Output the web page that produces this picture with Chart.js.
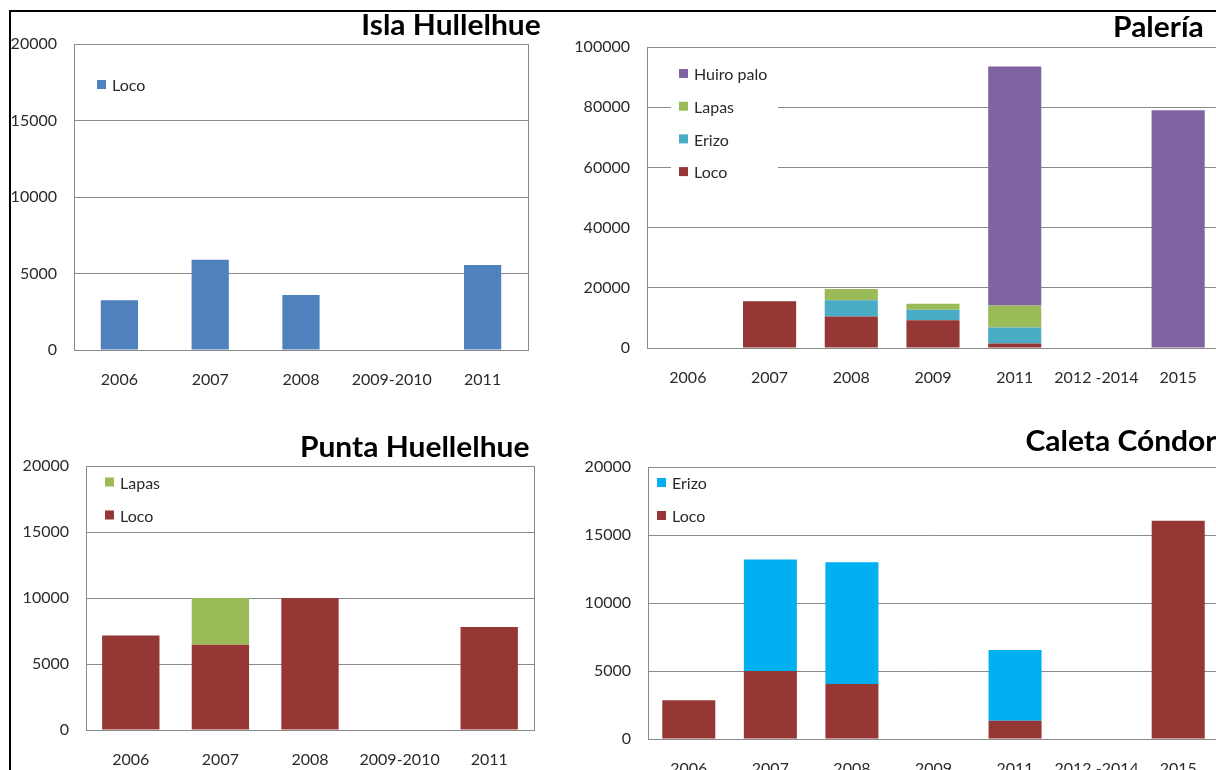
<!DOCTYPE html>
<html lang="es">
<head>
  <meta charset="UTF-8">
  <title>Desembarques por sector</title>
  <script src="https://cdn.jsdelivr.net/npm/chart.js"></script>
  <style>
    html, body { margin: 0; padding: 0; background: #fff; overflow: hidden; width: 1216px; height: 770px; }
    body { position: relative; font-family: Lato, sans-serif; }
    canvas { position: absolute; }
    .titulo { position: absolute; font: bold 28px Lato, sans-serif; line-height: 1.2; color: #000;
              white-space: nowrap; transform: scaleX(1.07); transform-origin: right center; z-index: 2; }
    #marco { position: absolute; left: 9px; top: 10px; width: 1300px; height: 900px;
             border-left: 2px solid #000; border-top: 2px solid #000; z-index: 5; }
  </style>
</head>
<body>
  <div id="marco"></div>
  <div class="titulo" style="right:675px; top:8px">Isla Hullelhue</div>
  <div class="titulo" style="right:12px; top:10px">Palería</div>
  <div class="titulo" style="right:686px; top:430px">Punta Huellelhue</div>
  <div class="titulo" style="right:0px; top:424px">Caleta Cóndor</div>

  <canvas id="isla" width="533" height="381" style="left:0px; top:14px"></canvas>
  <canvas id="paleria" width="681" height="376" style="left:543px; top:17px"></canvas>
  <canvas id="punta" width="527" height="339" style="left:12px; top:436px"></canvas>
  <canvas id="condor" width="680" height="347" style="left:544px; top:437px"></canvas>

  <script>
    // años (categorías)
    const anios5 = ['2006', '2007', '2008', '2009-2010', '2011'];
    const anios7 = ['2006', '2007', '2008', '2009', '2011', '2012 -2014', '2015'];

    // Isla Hullelhue
    const islaLoco = [3250, 5900, 3600, null, 5550];

    // Palería
    const paleriaLoco  = [null, 15500, 10500, 9200, 1500, null, null];
    const paleriaErizo = [null, null, 5400, 3500, 5300, null, null];
    const paleriaLapas = [null, null, 3700, 2000, 7300, null, null];
    const paleriaHuiro = [null, null, null, null, 79400, null, 79000];

    // Punta Huellelhue
    const puntaLoco  = [7150, 6450, 10000, null, 7800];
    const puntaLapas = [null, 3550, null, null, null];

    // Caleta Cóndor
    const condorLoco  = [2850, 5000, 4050, null, 1350, null, 16050];
    const condorErizo = [null, 8200, 8950, null, 5200, null, null];

    const GRIS = '#8a8a8a';
    const TEXTO = '#2a2a2a';

    // marco del área de trazado
    const marcoArea = {
      id: 'marcoArea',
      beforeDatasetsDraw(chart) {
        const a = chart.chartArea, ctx = chart.ctx;
        ctx.save();
        ctx.strokeStyle = GRIS;
        ctx.lineWidth = 1;
        ctx.strokeRect(Math.round(a.left) + 0.5, Math.round(a.top) + 0.5,
                       Math.round(a.right - a.left), Math.round(a.bottom - a.top));
        ctx.restore();
      }
    };

    // leyenda dibujada dentro del área
    const leyenda = {
      id: 'leyenda',
      afterDatasetsDraw(chart, args, o) {
        const a = chart.chartArea, ctx = chart.ctx;
        ctx.save();
        if (o.fondo) {
          ctx.fillStyle = '#fff';
          ctx.fillRect(a.left + o.fondo[0], a.top + o.fondo[1], o.fondo[2], o.fondo[3]);
        }
        ctx.font = '16px Lato, sans-serif';
        ctx.textBaseline = 'middle';
        chart.data.datasets.slice().reverse().forEach((ds, i) => {
          const y = a.top + o.y + i * o.gap;
          ctx.fillStyle = ds.backgroundColor;
          ctx.fillRect(a.left + o.x, y - 5, 9, 9);
          ctx.fillStyle = TEXTO;
          ctx.fillText(ds.label, a.left + o.x + 15, y + 1);
        });
        ctx.restore();
      }
    };

    function grafico(id, etiquetas, series, maximo, paso, ancho, ley, izq, anchoEje) {
      return new Chart(document.getElementById(id), {
        type: 'bar',
        data: { labels: etiquetas, datasets: series },
        plugins: [marcoArea, leyenda],
        options: {
          responsive: false,
          animation: false,
          layout: { padding: { left: izq, top: 30, right: 5, bottom: 0 } },
          datasets: { bar: { categoryPercentage: 1, barPercentage: ancho } },
          plugins: {
            legend: { display: false },
            tooltip: { enabled: false },
            leyenda: ley
          },
          scales: {
            x: {
              stacked: true,
              grid: { display: false },
              border: { display: false },
              ticks: { color: TEXTO, font: { family: 'Lato', size: 16 }, padding: 12,
                       maxRotation: 0, autoSkip: false },
              afterFit: s => { s.height = 45; }
            },
            y: {
              stacked: true,
              min: 0, max: maximo,
              grid: { color: GRIS, drawTicks: false },
              border: { display: false },
              ticks: { stepSize: paso, color: TEXTO, font: { family: 'Lato', size: 16 }, padding: 17,
                       callback: v => String(v) },
              afterFit: s => { s.width = anchoEje; }
            }
          }
        }
      });
    }

    grafico('isla', anios5, [
      { label: 'Loco', data: islaLoco, backgroundColor: '#4F81BD' }
    ], 20000, 5000, 0.41, { x: 23, y: 41, gap: 33 }, 10, 64);

    grafico('paleria', anios7, [
      { label: 'Loco', data: paleriaLoco, backgroundColor: '#953735' },
      { label: 'Erizo', data: paleriaErizo, backgroundColor: '#4BACC6' },
      { label: 'Lapas', data: paleriaLapas, backgroundColor: '#9BBB59' },
      { label: 'Huiro palo', data: paleriaHuiro, backgroundColor: '#8064A2' }
    ], 100000, 20000, 0.65, { x: 32, y: 27, gap: 32.7, fondo: [24, 11, 107, 130] }, 20, 84);

    grafico('punta', anios5, [
      { label: 'Loco', data: puntaLoco, backgroundColor: '#953735' },
      { label: 'Lapas', data: puntaLapas, backgroundColor: '#9BBB59' }
    ], 20000, 5000, 0.64, { x: 19, y: 16.5, gap: 33 }, 10, 64);

    grafico('condor', anios7, [
      { label: 'Loco', data: condorLoco, backgroundColor: '#953735' },
      { label: 'Erizo', data: condorErizo, backgroundColor: '#00B0F0' }
    ], 20000, 5000, 0.65, { x: 9, y: 16, gap: 33 }, 20, 84);
  </script>
</body>
</html>
